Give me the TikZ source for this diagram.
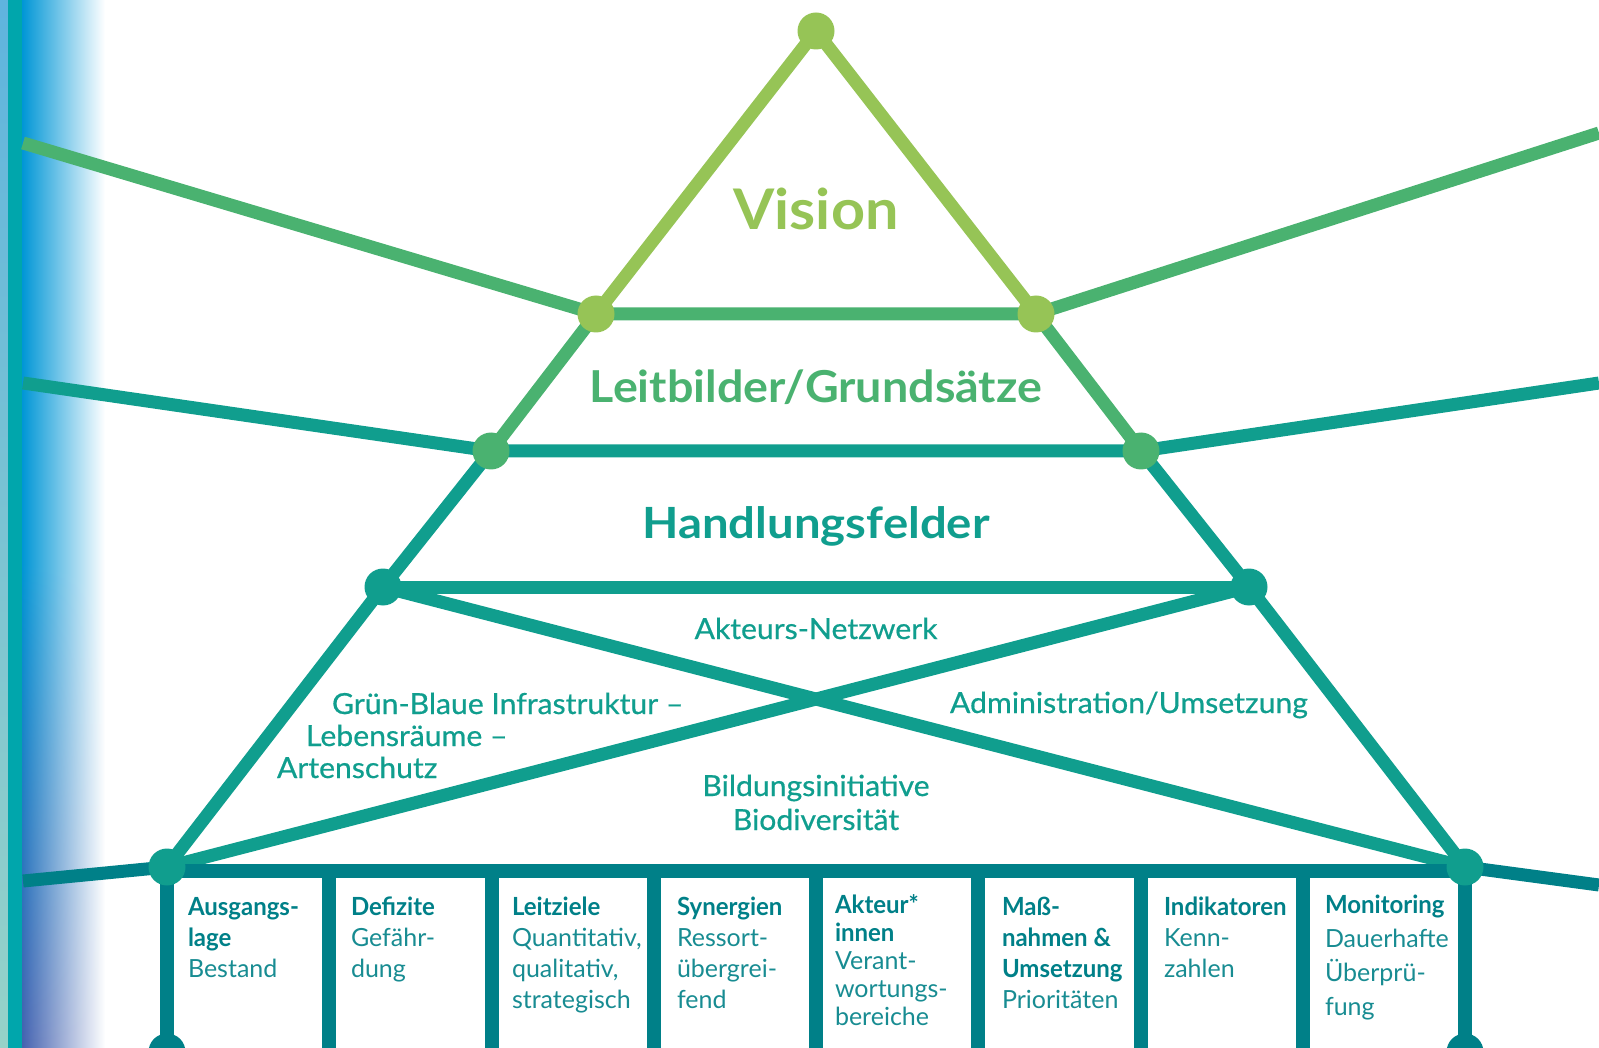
\documentclass[tikz,border=0pt]{standalone}
\usepackage{fontspec}
\setmainfont{Lato}
\newfontfamily\medfont[FakeBold=0.6,FakeStretch=1.04]{Lato}
\newfontfamily\titlefont[FakeStretch=1.06]{Lato}
\usetikzlibrary{fadings}

\definecolor{visiongreen}{RGB}{150,196,86}
\definecolor{leitgreen}{RGB}{74,178,112}
\definecolor{fieldteal}{RGB}{16,158,142}
\definecolor{boxteal}{RGB}{0,128,136}
\definecolor{subteal}{RGB}{24,140,146}
\definecolor{stripblue}{RGB}{0,150,214}
\definecolor{stripteal}{RGB}{0,166,172}
\definecolor{stripviolet}{RGB}{70,98,176}
\definecolor{stripsky}{RGB}{95,180,222}
\definecolor{stripmint}{RGB}{150,210,200}

\newcommand{\lines}[1]{\begin{tabular}[t]{@{}l@{}}#1\end{tabular}}
\newcommand{\clines}[1]{\begin{tabular}[t]{@{}c@{}}#1\end{tabular}}
\newcommand{\head}[1]{\textcolor{boxteal}{\bfseries\addfontfeatures{FakeStretch=0.96}#1}}

\tikzfading[name=fade up, top color=transparent!100, bottom color=transparent!0]

\tikzset{every picture/.style={line width=13pt}}

\begin{document}
\begin{tikzpicture}[x=1pt,y=1pt,yscale=-1,xscale=1,
  link/.style={line width=13pt},
  bar/.style={boxteal, line width=14pt},
  dot/.style={circle, fill=#1, minimum size=37pt, inner sep=0pt},
  label/.style={inner sep=0pt, outer sep=0pt},
  midtext/.style={label, text=fieldteal, font=\medfont\fontsize{29}{34}\selectfont},
  boxtext/.style={label, anchor=base west, text=subteal, font=\fontsize{25}{31}\selectfont}]
\useasboundingbox (0,0) rectangle (1599,1048);

%Shape: left strip
\shade [left color=stripblue, right color=white] (22,0) rectangle (105,1048);
\shade [left color=stripviolet, right color=white, path fading=fade up] (22,560) rectangle (105,1048);
\shade [top color=stripsky, bottom color=stripmint] (0,0) rectangle (8,1048);
\fill [stripteal] (8,0) rectangle (22,1048);

%Points of the pyramid
\coordinate (apex) at (816,31);
\coordinate (vl) at (596,314);
\coordinate (vr) at (1036,314);
\coordinate (ll) at (491,451);
\coordinate (lr) at (1141,451);
\coordinate (hl) at (383,587);
\coordinate (hr) at (1249,587);
\coordinate (bl) at (167,867);
\coordinate (br) at (1465,867);
%free ends at the borders
\coordinate (o1l) at (23,143);
\coordinate (o1r) at (1599,133);
\coordinate (o2l) at (23,383);
\coordinate (o2r) at (1599,383);
\coordinate (o3l) at (23,881);
\coordinate (o3r) at (1599,885);

%Straight Lines
\draw [link, leitgreen] (o1l) -- (vl) -- (vr) -- (o1r);
\draw [link, fieldteal] (o2l) -- (ll) -- (lr) -- (o2r);
\draw [link, boxteal] (o3l) -- (bl);
\draw [link, boxteal] (br) -- (o3r);
\draw [link, visiongreen] (vl) -- (apex) -- (vr);
\draw [link, leitgreen] (vl) -- (ll);
\draw [link, leitgreen] (vr) -- (lr);
\draw [link, fieldteal] (ll) -- (hl) -- (bl);
\draw [link, fieldteal] (lr) -- (hr) -- (br);
\draw [link, fieldteal] (hl) -- (hr);
\draw [link, fieldteal] (hl) -- (br);
\draw [link, fieldteal] (hr) -- (bl);

%Shape: boxes
\draw [bar] (167,871) -- (1465,871);
\foreach \i in {0,...,8}
  \draw [bar] ({167+162.25*\i},871) -- ({167+162.25*\i},1060);
\draw [bar] (160,1055) -- (1472,1055);

%Shape: Circles
\node [dot=visiongreen] (apex dot) at (apex) {};
\node [dot=visiongreen] (vl dot) at (vl) {};
\node [dot=visiongreen] (vr dot) at (vr) {};
\node [dot=leitgreen] (ll dot) at (ll) {};
\node [dot=leitgreen] (lr dot) at (lr) {};
\node [dot=fieldteal] (hl dot) at (hl) {};
\node [dot=fieldteal] (hr dot) at (hr) {};
\node [dot=fieldteal] (bl dot) at (bl) {};
\node [dot=fieldteal] (br dot) at (br) {};
\node [dot=boxteal] (bl foot) at (167,1052) {};
\node [dot=boxteal] (br foot) at (1465,1052) {};

% Text Node
\node [label, anchor=base, text=visiongreen, font=\titlefont\bfseries\fontsize{56}{60}\selectfont] (vision) at (816,230) {Vision};
% Text Node
\node [label, anchor=base, text=leitgreen, font=\titlefont\bfseries\fontsize{44}{50}\selectfont] (leitbilder) at (816,403) {Leitbilder/Grundsätze};
% Text Node
\node [label, anchor=base, text=fieldteal, font=\titlefont\bfseries\addfontfeatures{FakeStretch=1.1}\fontsize{43}{48}\selectfont] (felder) at (816,538) {Handlungsfelder};
% Text Node
\node [midtext, anchor=base] (netzwerk) at (816,639) {Akteurs-Netzwerk};
\node [midtext, anchor=base west] (infra) at (332,714) {Grün-Blaue Infrastruktur –};
\node [midtext, anchor=base west] (lebensraum) at (306,746) {Lebensräume –};
\node [midtext, anchor=base west] (artenschutz) at (277,778) {Artenschutz};
\node [midtext, anchor=base west] (admin) at (950,713) {Administration/Umsetzung};
\node [midtext, anchor=base] (bildung) at (816,796) {\clines{Bildungsinitiative\\Biodiversität}};

% Text Nodes in the boxes
\node [boxtext] (lage) at (188,915) {\lines{\head{Ausgangs-}\\\head{lage}\\Bestand}};
\node [boxtext] (defizite) at (351,915) {\lines{\head{Defizite}\\Gefähr-\\dung}};
\node [boxtext] (leitziele) at (512,915) {\lines{\head{Leitziele}\\Quantitativ,\\qualitativ,\\strategisch}};
\node [boxtext] (synergien) at (677,915) {\lines{\head{Synergien}\\Ressort-\\übergrei-\\fend}};
\node [boxtext, font=\fontsize{25}{28}\selectfont] (akteure) at (835,913) {\lines{\head{Akteur*}\\\head{innen}\\Verant-\\wortungs-\\bereiche}};
\node [boxtext] (massnahmen) at (1002,915) {\lines{\head{Maß-}\\\head{nahmen \&}\\\head{Umsetzung}\\Prioritäten}};
\node [boxtext] (indikatoren) at (1164,915) {\lines{\head{Indikatoren}\\Kenn-\\zahlen}};
\node [boxtext, font=\fontsize{25}{34}\selectfont] (monitoring) at (1325,913) {\lines{\head{Monitoring}\\Dauerhafte\\Überprü-\\fung}};

\end{tikzpicture}
\end{document}
